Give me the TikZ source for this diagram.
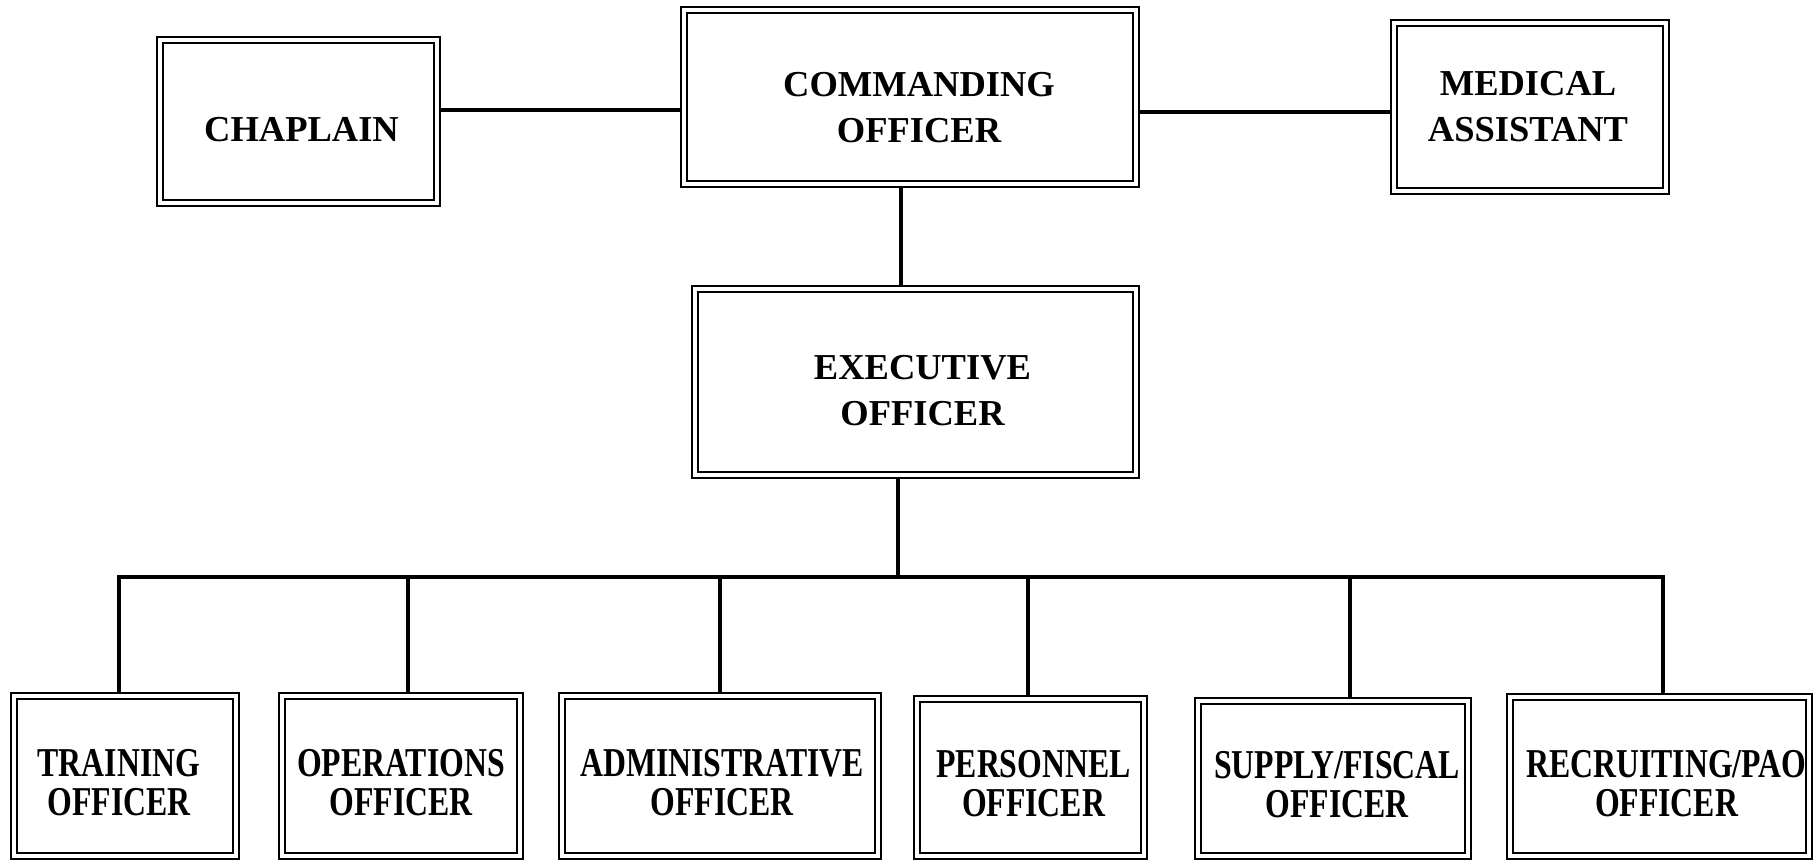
\documentclass[tikz,border=0pt]{standalone}
\usepackage{fontspec}
\setmainfont{Liberation Serif}
\newfontfamily\condfont{Liberation Serif}[FakeStretch=0.775]
\usetikzlibrary{backgrounds}
\begin{document}
\begin{tikzpicture}[x=1pt,y=-1pt,
  box/.style={draw, double, line width=2.2pt, double distance=3.8pt, inner sep=0pt},
  toptext/.style={font=\bfseries\fontsize{36.5}{46}\selectfont, align=center, inner sep=0pt},
  bottext/.style={font=\condfont\bfseries\fontsize{41}{39}\selectfont, align=center, inner sep=0pt},
  conn/.style={line width=4.8pt, line join=miter}]
\useasboundingbox (0,0) rectangle (1818,863);

% top row
\node[box, minimum width=277pt, minimum height=163pt] (chap) at (298.5,121.5) {};
\node[box, minimum width=452pt, minimum height=174pt] (co) at (910,97) {};
\node[box, minimum width=272pt, minimum height=168pt] (med) at (1530,107) {};
\node[box, minimum width=441pt, minimum height=186pt] (xo) at (915.5,382) {};

\node[toptext, xshift=3pt, yshift=-8pt] (chapt) at (chap) {CHAPLAIN};
\node[toptext, xshift=9pt, yshift=-11pt] (cot) at (co) {COMMANDING\\OFFICER};
\node[toptext, xshift=-2pt] (medt) at (med) {MEDICAL\\ASSISTANT};
\node[toptext, xshift=7pt, yshift=-9pt] (xot) at (xo) {EXECUTIVE\\OFFICER};

% bottom row
\node[box, minimum width=222pt, minimum height=160pt] (t1) at (125,776) {};
\node[box, minimum width=238pt, minimum height=160pt] (t2) at (401,776) {};
\node[box, minimum width=316pt, minimum height=160pt] (t3) at (720,776) {};
\node[box, minimum width=227pt, minimum height=157pt] (t4) at (1030.5,777.5) {};
\node[box, minimum width=270pt, minimum height=155pt] (t5) at (1333,778.5) {};
\node[box, minimum width=299pt, minimum height=159pt] (t6) at (1659.5,776.5) {};

\node[bottext, xshift=-6pt, yshift=-7pt] (t1t) at (t1) {TRAINING\\OFFICER};
\node[bottext, yshift=-7pt] (t2t) at (t2) {OPERATIONS\\OFFICER};
\node[bottext, xshift=2pt, yshift=-7pt] (t3t) at (t3) {ADMINISTRATIVE\\OFFICER};
\node[bottext, xshift=3pt, yshift=-6pt] (t4t) at (t4) {PERSONNEL\\OFFICER};
\node[bottext, xshift=4pt, yshift=-6pt] (t5t) at (t5) {SUPPLY/FISCAL\\OFFICER};
\node[bottext, xshift=7pt, yshift=-7pt] (t6t) at (t6) {RECRUITING/PAO\\OFFICER};

% connectors
\coordinate (hl) at (0,110);
\coordinate (hr) at (0,112);
\coordinate (vx) at (901,240);
\coordinate (bx) at (898,577);
\coordinate (b1) at (119,577);
\coordinate (b2) at (408,577);
\coordinate (b3) at (720,577);
\coordinate (b4) at (1028,577);
\coordinate (b5) at (1350,577);
\coordinate (b6) at (1663,577);

\begin{scope}[on background layer]
\draw[conn] (chap.east |- hl) -- (co.west |- hl);
\draw[conn] (co.east |- hr) -- (med.west |- hr);
\draw[conn] (co.south -| vx) -- (xo.north -| vx);
\draw[conn] (xo.south -| bx) -- (bx);
\draw[conn] (t1.north -| b1) -- (b1) -- (b6) -- (t6.north -| b6);
\draw[conn] (b2) -- (t2.north -| b2);
\draw[conn] (b3) -- (t3.north -| b3);
\draw[conn] (b4) -- (t4.north -| b4);
\draw[conn] (b5) -- (t5.north -| b5);
\end{scope}
\end{tikzpicture}
\end{document}
